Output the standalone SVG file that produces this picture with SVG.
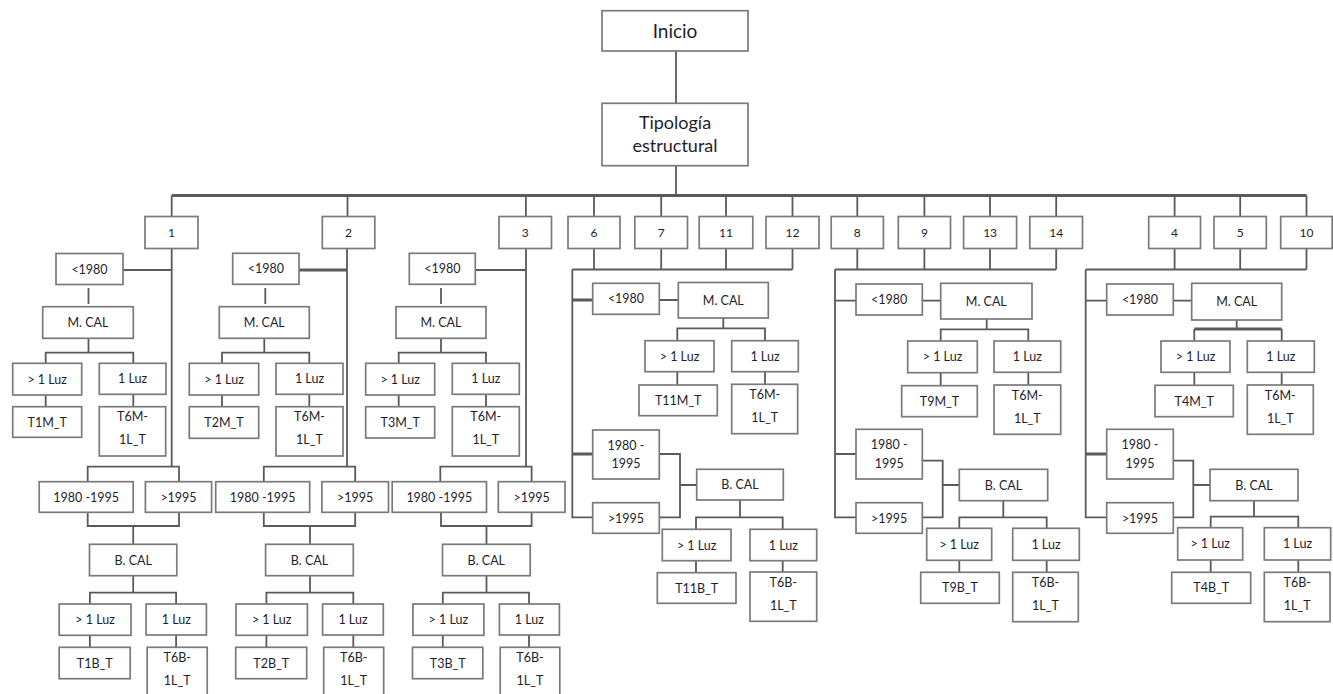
<svg xmlns="http://www.w3.org/2000/svg" width="1333" height="694" viewBox="0 0 1333 694">
<style>
.b{fill:#fff;stroke:#7a7a7a;stroke-width:1.7}
.t{font-family:Lato,"Liberation Sans",sans-serif;font-size:12.5px;fill:#1e1e2e;text-anchor:middle}
.n{font-size:12px}
.c{fill:none;stroke:#5a5a5a;stroke-width:1.8}
.k{fill:none;stroke:#5a5a5a;stroke-width:2.8}
</style>
<rect width="1333" height="694" fill="#fff"/>
<g id="connectors">
<path class="c" d="M676 51V103.3M676 165.7V195.5"/>
<path class="k" d="M171.7 195.5H1306.5"/>
<path class="c" d="M171.7 195.5V216.5M347.5 195.5V216.5M525.9 195.5V216.5M594 195.5V216.5M661.2 195.5V216.5M726 195.5V216.5M792.5 195.5V216.5M857.3 195.5V216.5M924.4 195.5V216.5M990 195.5V216.5M1056.2 195.5V216.5M1174.6 195.5V216.5M1240.2 195.5V216.5M1306.5 195.5V216.5"/>
<!-- group 1 -->
<path class="c" d="M171.7 248.5V466.7M122.7 270H171.7M88.5 288V304M88.5 338.3V352.7M45.7 363.3V352.7H133.3V363.3M45.7 395V406.7M133.3 394.3V406.7M87.7 481.7V466.7H179V481.7M87.7 512.3V526H179V512.3M133.2 526V544.3M133.2 575.7V592.7M89.9 604V592.7H176.1V604M89.9 635.3V647.3M176.1 635V647.3"/>
<!-- group 2 -->
<path class="c" d="M347 248.5V466.7M265.3 288V304M264.3 338.3V352.7M222 363.3V352.7H309.3V363.3M222 395V406.7M309.3 394.3V406.7M263.8 481.7V466.7H355.2V481.7M263.8 512.3V526H355.2V512.3M310 526V544.3M310 575.7V592.7M266.4 604V592.7H353.3V604M266.4 635.3V647.3M353.3 635V647.3"/>
<path class="k" d="M299 270H347"/>
<!-- group 3 -->
<path class="c" d="M526 248.5V466.7M475.3 270H526M441 288V304M441 338.3V352.7M398.7 363.3V352.7H486V363.3M398.7 395V406.7M486 394.3V406.7M440.3 481.7V466.7H531.6V481.7M441 512.3V526H531.6V512.3M486.5 526V544.3M486.5 575.7V592.7M442.8 604V592.7H529V604M442.8 635.3V647.3M529 635V647.3"/>
<!-- group 6-7-11-12 -->
<path class="c" d="M594 248V269.5M661.2 248V269.5M726 248V269.5M792.5 248V269.5M572.3 269.5H792.5M572.3 269.5V517.3H592.7M659.3 300H678.3M723.3 318V328.3M677.3 340.7V328.3H765V340.7M677.3 371.7V385M765 371.7V384.3M659.3 454H680V517.3H659.3M680 485H696.7M740 500V517.3M696 529.3V517.3H782.7V529.3M696 560.7V572.7M782.7 560.7V572"/>
<path class="k" d="M572.3 300H592.7M572.3 454H592.7"/>
<!-- group 8-9-13-14 -->
<path class="c" d="M857.3 248V269.5M924.4 248V269.5M990 248V269.5M1056.2 248V269.5M835 269.5H1056.2M835 269.5V517.3H856M835 300.7H856M922.3 300.7H940.7M986.7 319V329.3M940.7 341V329.3H1028.3V341M940.7 372.7V385.7M1028.3 372.3V385M835 454H856M922.3 460.7H942.7V517.3H922.3M942.7 485H959.3M1003.3 500.7V517.3M959.3 528.3V517.3H1046.7V528.3M959.3 560.3V572.3M1046.7 560.3V572.3"/>
<!-- group 4-5-10 -->
<path class="c" d="M1174.6 248V269.5M1240.2 248V269.5M1306.5 248V269.5M1085.7 269.5H1306.5M1085.7 269.5V517.3H1106.7M1085.7 300.7H1106.7M1173.3 300.7H1191.7M1236.7 320V329M1194.3 341V329M1281.7 329V341M1194.3 372.3V385.3M1281.7 372.3V385M1173.3 460.7H1193.3V517.3H1173.3M1193.3 485H1210M1254 500.7V516.7M1210.7 527.7V516.7H1298.3V527.7M1210.7 560V572.3M1298.3 560V572.3"/>
<path class="k" d="M1194.3 329H1281.7M1085.7 454H1106.7"/>
</g>
<g id="inicio"><rect class="b" x="602" y="10.7" width="146" height="40.3"/><text class="t" x="675" y="37.5" style="font-size:19px">Inicio</text></g>
<g id="tipologia"><rect class="b" x="602" y="103.3" width="146" height="62.4"/><text class="t" x="675" y="128.5" style="font-size:18px">Tipología</text><text class="t" x="675" y="152" style="font-size:18px">estructural</text></g>
<g id="t1"><rect class="b" x="145" y="216.5" width="53" height="32"/><text class="t n" x="171.5" y="237">1</text></g>
<g id="t2"><rect class="b" x="322.3" y="216.5" width="52.5" height="32"/><text class="t n" x="348.5" y="237">2</text></g>
<g id="t3"><rect class="b" x="499" y="216.5" width="52.5" height="32"/><text class="t n" x="525.3" y="237">3</text></g>
<g id="t6"><rect class="b" x="568" y="216.5" width="52" height="32"/><text class="t n" x="594" y="237">6</text></g>
<g id="t7"><rect class="b" x="634.8" y="216.5" width="52.7" height="32"/><text class="t n" x="661.2" y="237">7</text></g>
<g id="t11"><rect class="b" x="699.2" y="216.5" width="53.6" height="32"/><text class="t n" x="726" y="237">11</text></g>
<g id="t12"><rect class="b" x="766" y="216.5" width="53" height="32"/><text class="t n" x="792.5" y="237">12</text></g>
<g id="t8"><rect class="b" x="831.2" y="216.5" width="52.2" height="32"/><text class="t n" x="857.3" y="237">8</text></g>
<g id="t9"><rect class="b" x="898.3" y="216.5" width="52.2" height="32"/><text class="t n" x="924.4" y="237">9</text></g>
<g id="t13"><rect class="b" x="963.6" y="216.5" width="53" height="32"/><text class="t n" x="990.1" y="237">13</text></g>
<g id="t14"><rect class="b" x="1029.8" y="216.5" width="52.7" height="32"/><text class="t n" x="1056.2" y="237">14</text></g>
<g id="t4"><rect class="b" x="1148.7" y="216.5" width="51.8" height="32"/><text class="t n" x="1174.6" y="237">4</text></g>
<g id="t5"><rect class="b" x="1214" y="216.5" width="52.3" height="32"/><text class="t n" x="1240.2" y="237">5</text></g>
<g id="t10"><rect class="b" x="1280.7" y="216.5" width="51.5" height="32"/><text class="t n" x="1306.5" y="237">10</text></g>
<!-- group 1 -->
<g id="g1-pre"><rect class="b" x="56" y="253.5" width="67" height="31"/><text class="t" x="89.5" y="273.5">&lt;1980</text></g>
<g id="g1-mcal"><rect class="b" x="42.7" y="306.7" width="90.6" height="31.6"/><text class="t" x="88" y="327">M. CAL</text></g>
<g id="g1-m-multi"><rect class="b" x="12.7" y="363.3" width="69" height="31.7"/><text class="t" x="47.2" y="383.6">&gt; 1 Luz</text></g>
<g id="g1-m-one"><rect class="b" x="99.3" y="363.3" width="66.7" height="31"/><text class="t" x="132.6" y="383.3">1 Luz</text></g>
<g id="g1-T1M"><rect class="b" x="12.7" y="406.7" width="69" height="30.6"/><text class="t" x="47.2" y="426.5">T1M_T</text></g>
<g id="g1-T6M"><rect class="b" x="99.3" y="406.7" width="66.4" height="49.3"/><text class="t" x="132.5" y="421.2">T6M-</text><text class="t" x="132.5" y="444.2">1L_T</text></g>
<g id="g1-mid"><rect class="b" x="39.2" y="481.7" width="94" height="30.6"/><text class="t" x="86.2" y="501.5">1980 -1995</text></g>
<g id="g1-post"><rect class="b" x="145.4" y="481.7" width="66.2" height="30.6"/><text class="t" x="178.5" y="501.5">&gt;1995</text></g>
<g id="g1-bcal"><rect class="b" x="89.5" y="544.3" width="87.3" height="31.4"/><text class="t" x="133.2" y="564.5">B. CAL</text></g>
<g id="g1-b-multi"><rect class="b" x="59.2" y="604" width="71.8" height="31.3"/><text class="t" x="95.1" y="624.2">&gt; 1 Luz</text></g>
<g id="g1-b-one"><rect class="b" x="146.1" y="604" width="60.3" height="31"/><text class="t" x="176.3" y="624">1 Luz</text></g>
<g id="g1-T1B"><rect class="b" x="59.2" y="647.3" width="71" height="31.4"/><text class="t" x="94.7" y="667.5">T1B_T</text></g>
<g id="g1-T6B"><rect class="b" x="147.2" y="647.3" width="60" height="50"/><text class="t" x="177.2" y="661.8">T6B-</text><text class="t" x="177.2" y="684.8">1L_T</text></g>
<!-- group 2 -->
<g id="g2-pre"><rect class="b" x="232.7" y="253.3" width="66.3" height="31"/><text class="t" x="265.8" y="273.3">&lt;1980</text></g>
<g id="g2-mcal"><rect class="b" x="219.3" y="306.7" width="90" height="31.6"/><text class="t" x="264.3" y="327">M. CAL</text></g>
<g id="g2-m-multi"><rect class="b" x="189.3" y="363.3" width="69.4" height="31.7"/><text class="t" x="224" y="383.6">&gt; 1 Luz</text></g>
<g id="g2-m-one"><rect class="b" x="276" y="363.3" width="67" height="31"/><text class="t" x="309.5" y="383.3">1 Luz</text></g>
<g id="g2-T2M"><rect class="b" x="189.3" y="406.7" width="69.4" height="31.6"/><text class="t" x="224" y="427">T2M_T</text></g>
<g id="g2-T6M"><rect class="b" x="276" y="406.7" width="67" height="49.3"/><text class="t" x="309.5" y="421.2">T6M-</text><text class="t" x="309.5" y="444.2">1L_T</text></g>
<g id="g2-mid"><rect class="b" x="215.7" y="481.7" width="94" height="30.6"/><text class="t" x="262.7" y="501.5">1980 -1995</text></g>
<g id="g2-post"><rect class="b" x="321.9" y="481.7" width="66.6" height="30.6"/><text class="t" x="355.2" y="501.5">&gt;1995</text></g>
<g id="g2-bcal"><rect class="b" x="265.6" y="544.3" width="87.7" height="31.4"/><text class="t" x="309.5" y="564.5">B. CAL</text></g>
<g id="g2-b-multi"><rect class="b" x="236" y="604" width="71.4" height="31.3"/><text class="t" x="271.7" y="624.2">&gt; 1 Luz</text></g>
<g id="g2-b-one"><rect class="b" x="322.6" y="604" width="60.7" height="31"/><text class="t" x="353" y="624">1 Luz</text></g>
<g id="g2-T2B"><rect class="b" x="235.7" y="647.3" width="71" height="31.4"/><text class="t" x="271.2" y="667.5">T2B_T</text></g>
<g id="g2-T6B"><rect class="b" x="323.7" y="647.3" width="60" height="50"/><text class="t" x="353.7" y="661.8">T6B-</text><text class="t" x="353.7" y="684.8">1L_T</text></g>
<!-- group 3 -->
<g id="g3-pre"><rect class="b" x="409.3" y="253.3" width="66" height="31"/><text class="t" x="442.3" y="273.3">&lt;1980</text></g>
<g id="g3-mcal"><rect class="b" x="396" y="306.7" width="90" height="31.6"/><text class="t" x="441" y="327">M. CAL</text></g>
<g id="g3-m-multi"><rect class="b" x="365.7" y="363.3" width="69" height="31.7"/><text class="t" x="400.2" y="383.6">&gt; 1 Luz</text></g>
<g id="g3-m-one"><rect class="b" x="452.3" y="363.3" width="67" height="31"/><text class="t" x="485.8" y="383.3">1 Luz</text></g>
<g id="g3-T3M"><rect class="b" x="365.7" y="406.7" width="69" height="31.3"/><text class="t" x="400.2" y="426.8">T3M_T</text></g>
<g id="g3-T6M"><rect class="b" x="452.3" y="406.7" width="67" height="49.3"/><text class="t" x="485.8" y="421.2">T6M-</text><text class="t" x="485.8" y="444.2">1L_T</text></g>
<g id="g3-mid"><rect class="b" x="392.2" y="481.7" width="94.3" height="30.6"/><text class="t" x="439.3" y="501.5">1980 -1995</text></g>
<g id="g3-post"><rect class="b" x="498.3" y="481.7" width="66.7" height="30.6"/><text class="t" x="531.7" y="501.5">&gt;1995</text></g>
<g id="g3-bcal"><rect class="b" x="442.5" y="544.3" width="87.7" height="31.4"/><text class="t" x="486.3" y="564.5">B. CAL</text></g>
<g id="g3-b-multi"><rect class="b" x="412.9" y="604" width="71" height="31.3"/><text class="t" x="448.4" y="624.2">&gt; 1 Luz</text></g>
<g id="g3-b-one"><rect class="b" x="499.4" y="604" width="60" height="31"/><text class="t" x="529.4" y="624">1 Luz</text></g>
<g id="g3-T3B"><rect class="b" x="412.5" y="647.3" width="70.3" height="31.4"/><text class="t" x="447.7" y="667.5">T3B_T</text></g>
<g id="g3-T6B"><rect class="b" x="500.2" y="647.3" width="59.6" height="50"/><text class="t" x="530" y="661.8">T6B-</text><text class="t" x="530" y="684.8">1L_T</text></g>
<!-- group A -->
<g id="gA-pre"><rect class="b" x="592.7" y="283.3" width="66.6" height="31"/><text class="t" x="626" y="303.3">&lt;1980</text></g>
<g id="gA-mcal"><rect class="b" x="678.3" y="282.5" width="90" height="35.5"/><text class="t" x="723.3" y="304.7">M. CAL</text></g>
<g id="gA-m-multi"><rect class="b" x="645" y="340.7" width="69" height="31"/><text class="t" x="679.5" y="360.7">&gt; 1 Luz</text></g>
<g id="gA-m-one"><rect class="b" x="731.7" y="340.7" width="66.6" height="31"/><text class="t" x="765" y="360.7">1 Luz</text></g>
<g id="gA-T11M"><rect class="b" x="639" y="385" width="78.3" height="30.7"/><text class="t" x="678.2" y="404.8">T11M_T</text></g>
<g id="gA-T6M"><rect class="b" x="731.7" y="384.3" width="66" height="49.4"/><text class="t" x="764.7" y="398.8">T6M-</text><text class="t" x="764.7" y="421.8">1L_T</text></g>
<g id="gA-mid"><rect class="b" x="592.7" y="430" width="66.6" height="49"/><text class="t" x="626" y="449.5">1980 -</text><text class="t" x="626" y="468">1995</text></g>
<g id="gA-post"><rect class="b" x="592.7" y="502.7" width="66.6" height="30.6"/><text class="t" x="626" y="522.5">&gt;1995</text></g>
<g id="gA-bcal"><rect class="b" x="696.7" y="469.3" width="86.6" height="30.7"/><text class="t" x="740" y="489">B. CAL</text></g>
<g id="gA-b-multi"><rect class="b" x="662.3" y="529.3" width="68.7" height="31.4"/><text class="t" x="696.7" y="549.5">&gt; 1 Luz</text></g>
<g id="gA-b-one"><rect class="b" x="750" y="529.3" width="66.7" height="31.4"/><text class="t" x="783.3" y="549.5">1 Luz</text></g>
<g id="gA-T11B"><rect class="b" x="657.3" y="572.7" width="78.7" height="30.6"/><text class="t" x="696.7" y="592.5">T11B_T</text></g>
<g id="gA-T6B"><rect class="b" x="750" y="572" width="66.7" height="49.3"/><text class="t" x="783.3" y="586.5">T6B-</text><text class="t" x="783.3" y="609.5">1L_T</text></g>
<!-- group B -->
<g id="gB-pre"><rect class="b" x="856" y="284" width="66.3" height="31"/><text class="t" x="889.2" y="304">&lt;1980</text></g>
<g id="gB-mcal"><rect class="b" x="940.7" y="283.3" width="91.3" height="35.7"/><text class="t" x="986.3" y="305.6">M. CAL</text></g>
<g id="gB-m-multi"><rect class="b" x="907.7" y="341" width="69.6" height="31.7"/><text class="t" x="942.5" y="361.3">&gt; 1 Luz</text></g>
<g id="gB-m-one"><rect class="b" x="994" y="341" width="66.7" height="31.3"/><text class="t" x="1027.3" y="361.2">1 Luz</text></g>
<g id="gB-T9M"><rect class="b" x="901.7" y="385.7" width="75.6" height="31"/><text class="t" x="939.5" y="405.7">T9M_T</text></g>
<g id="gB-T6M"><rect class="b" x="994" y="385" width="66.7" height="49.3"/><text class="t" x="1027.3" y="399.5">T6M-</text><text class="t" x="1027.3" y="422.5">1L_T</text></g>
<g id="gB-mid"><rect class="b" x="856" y="429.3" width="66.3" height="49.7"/><text class="t" x="889.2" y="449">1980 -</text><text class="t" x="889.2" y="467.5">1995</text></g>
<g id="gB-post"><rect class="b" x="856" y="502.7" width="66.3" height="30.6"/><text class="t" x="889.2" y="522.5">&gt;1995</text></g>
<g id="gB-bcal"><rect class="b" x="959.3" y="469.3" width="88.4" height="31.4"/><text class="t" x="1003.5" y="489.5">B. CAL</text></g>
<g id="gB-b-multi"><rect class="b" x="926.7" y="528.3" width="65" height="32"/><text class="t" x="959.2" y="548.8">&gt; 1 Luz</text></g>
<g id="gB-b-one"><rect class="b" x="1012.7" y="528.3" width="66.6" height="32"/><text class="t" x="1046" y="548.8">1 Luz</text></g>
<g id="gB-T9B"><rect class="b" x="920.7" y="572.3" width="78.6" height="31"/><text class="t" x="960" y="592.3">T9B_T</text></g>
<g id="gB-T6B"><rect class="b" x="1012.7" y="572.3" width="65.6" height="49.4"/><text class="t" x="1045.5" y="586.8">T6B-</text><text class="t" x="1045.5" y="609.8">1L_T</text></g>
<!-- group C -->
<g id="gC-pre"><rect class="b" x="1106.7" y="284" width="66.6" height="31"/><text class="t" x="1140" y="304">&lt;1980</text></g>
<g id="gC-mcal"><rect class="b" x="1191.7" y="283.3" width="90" height="36.7"/><text class="t" x="1236.7" y="306">M. CAL</text></g>
<g id="gC-m-multi"><rect class="b" x="1161" y="341" width="69" height="31.3"/><text class="t" x="1195.5" y="361.2">&gt; 1 Luz</text></g>
<g id="gC-m-one"><rect class="b" x="1247.3" y="341" width="67" height="31.3"/><text class="t" x="1280.8" y="361.2">1 Luz</text></g>
<g id="gC-T4M"><rect class="b" x="1155" y="385.3" width="78.3" height="31.4"/><text class="t" x="1194.2" y="405.5">T4M_T</text></g>
<g id="gC-T6M"><rect class="b" x="1247.3" y="385" width="66" height="49.3"/><text class="t" x="1280.3" y="399.5">T6M-</text><text class="t" x="1280.3" y="422.5">1L_T</text></g>
<g id="gC-mid"><rect class="b" x="1106.7" y="429.3" width="66.6" height="49.7"/><text class="t" x="1140" y="449">1980 -</text><text class="t" x="1140" y="467.5">1995</text></g>
<g id="gC-post"><rect class="b" x="1106.7" y="502.7" width="66.6" height="30.6"/><text class="t" x="1140" y="522.5">&gt;1995</text></g>
<g id="gC-bcal"><rect class="b" x="1210" y="469.3" width="88" height="31.4"/><text class="t" x="1254" y="489.5">B. CAL</text></g>
<g id="gC-b-multi"><rect class="b" x="1177.7" y="527.7" width="65" height="32.3"/><text class="t" x="1210.2" y="548.3">&gt; 1 Luz</text></g>
<g id="gC-b-one"><rect class="b" x="1264.3" y="527.7" width="66.4" height="32.3"/><text class="t" x="1297.5" y="548.3">1 Luz</text></g>
<g id="gC-T4B"><rect class="b" x="1171.7" y="572.3" width="79" height="31"/><text class="t" x="1211.2" y="592.3">T4B_T</text></g>
<g id="gC-T6B"><rect class="b" x="1264.3" y="572.3" width="65.7" height="49.4"/><text class="t" x="1297.2" y="586.8">T6B-</text><text class="t" x="1297.2" y="609.8">1L_T</text></g>
</svg>
